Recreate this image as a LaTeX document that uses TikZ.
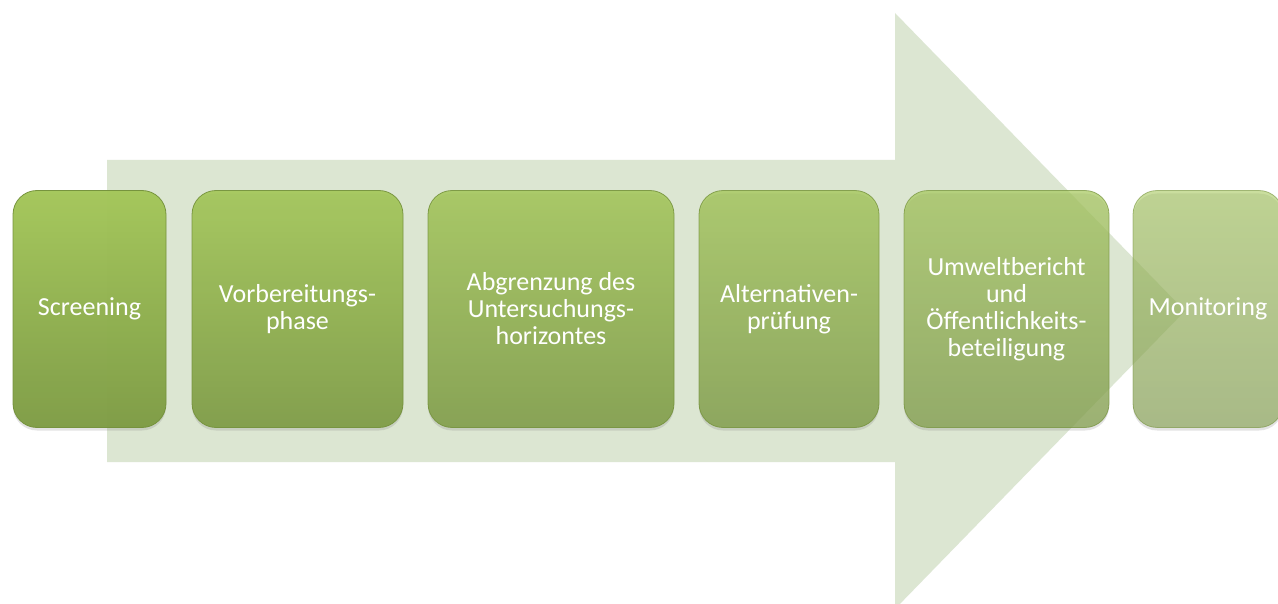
\documentclass[tikz,border=0pt]{standalone}
\usepackage{fontspec}
\setmainfont{Carlito}
\usetikzlibrary{shadows}
\definecolor{arrowgreen}{HTML}{DCE6D2}
\definecolor{boxtop}{HTML}{A4C759}
\definecolor{boxbot}{HTML}{7E9C45}
\definecolor{boxline}{HTML}{75923C}
\tikzset{
  stage/.style={rounded corners=24pt, draw=boxline, line width=0.8pt,
    top color=boxtop, bottom color=boxbot, minimum height=237pt,
    text=white, text opacity=1, align=center, inner sep=4pt,
    font=\fontsize{26}{27}\selectfont,
    drop shadow={shadow xshift=0pt, shadow yshift=-3pt, opacity=0.22}},
  fade/.style={fill opacity=#1, draw opacity=#1},
  bigarrow/.style={fill=arrowgreen, draw=none}
}
\begin{document}
\begin{tikzpicture}[x=1pt, y=-1pt]
\useasboundingbox (0,0) rectangle (1278,604);
\fill[white] (0,0) rectangle (1278,604);
\fill[bigarrow] (107,160) -- (895,160) -- (895,13) -- (1185,311) -- (895,609) -- (895,462) -- (107,462) -- cycle;
\node[stage, minimum width=153pt, fade=0.97] (s1) at (89.5,309) {Screening};
\node[stage, minimum width=211pt, fade=0.92] (s2) at (297.5,309) {Vorbereitungs-\\phase};
\node[stage, minimum width=246pt, fade=0.86] (s3) at (551,309) {Abgrenzung des\\Untersuchungs-\\horizontes};
\node[stage, minimum width=180pt, fade=0.78] (s4) at (789,309) {Alternativen-\\prüfung};
\node[stage, minimum width=205pt, fade=0.70] (s5) at (1006.5,309) {Umweltbericht\\und\\Öffentlichkeits-\\beteiligung};
\node[stage, minimum width=150pt, fade=0.58] (s6) at (1208,309) {Monitoring};
\end{tikzpicture}
\end{document}
